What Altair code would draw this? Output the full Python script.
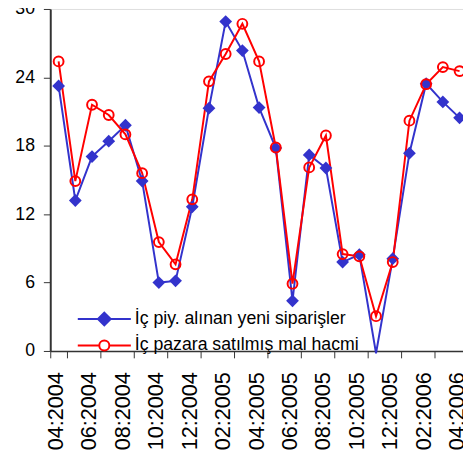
import json
import altair as alt
import pandas as pd

months = ["04:2004", "05:2004", "06:2004", "07:2004", "08:2004", "09:2004",
          "10:2004", "11:2004", "12:2004", "01:2005", "02:2005", "03:2005",
          "04:2005", "05:2005", "06:2005", "07:2005", "08:2005", "09:2005",
          "10:2005", "11:2005", "12:2005", "01:2006", "02:2006", "03:2006",
          "04:2006"]
tick_labels = months[::2]
names = ["İç piy. alınan yeni siparişler", "İç pazara satılmış mal hacmi"]
orders = [23.25, 13.2, 17.05, 18.4, 19.8, 14.9, 6.0, 6.15, 12.65, 21.3, 28.9, 26.35,
          21.35, 17.8, 4.4, 17.2, 16.05, 7.8, 8.45, -0.2, 8.1, 17.35, 23.45, 21.85, 20.45]
sales = [25.4, 14.9, 21.6, 20.7, 19.0, 15.6, 9.55, 7.6, 13.3, 23.65, 26.05, 28.7,
         25.4, 17.85, 5.9, 16.1, 18.9, 8.5, 8.3, 3.05, 7.8, 20.2, 23.4, 24.9, 24.55]
y_ticks = [0, 6, 12, 18, 24, 30]

BLUE = "#3333CC"
RED = "#FF0000"
FONT = "Liberation Sans"
AX = "#333333"

df = pd.DataFrame({
    "month": months * 2,
    "series": [names[0]] * len(months) + [names[1]] * len(months),
    "key": ["a"] * len(months) + ["b"] * len(months),
    "value": orders + sales,
})

path_a = "M-1,0L1,0M0,-0.24L0.24,0L0,0.24L-0.24,0Z"
path_b = ("M-1,0L-0.19,0M0.19,0L1,0M0.19,0A0.19,0.19,0,1,1,-0.19,0"
          "A0.19,0.19,0,1,1,0.19,0Z")
cond = "datum.value === " + json.dumps(names[0], ensure_ascii=False)

x = alt.X("month:O", sort=months,
          scale=alt.Scale(type="band", paddingInner=0, paddingOuter=0),
          axis=alt.Axis(values=tick_labels, tickBand="extent", labelAngle=270,
                        labelFont=FONT, labelFontSize=22, labelColor="black",
                        labelPadding=14, tickSize=7, labelOffset=-3,
                        labelOverlap=False, domainColor=AX, tickColor=AX,
                        domainWidth=1.5, tickWidth=1, grid=False, title=None))
y = alt.Y("value:Q", scale=alt.Scale(domain=[0, 30], nice=False, zero=False),
          axis=alt.Axis(values=y_ticks, labelFont=FONT, labelFontSize=18,
                        labelColor="black", tickSize=7, labelPadding=9,
                        domainColor=AX, tickColor=AX, domainWidth=2, tickWidth=1,
                        grid=False, title=None))

base = alt.Chart(df).encode(x=x, y=y)

legend = alt.Legend(
    title=None, orient="none", legendX=27, legendY=302, padding=0,
    symbolSize=2916, clipHeight=27, labelOffset=3, rowPadding=0,
    labelFont=FONT, labelFontSize=18, labelColor="black", labelLimit=400,
    symbolStrokeWidth=2,
    symbolType=alt.ExprRef(f"{cond} ? '{path_a}' : '{path_b}'"),
    symbolFillColor=alt.ExprRef(f"{cond} ? '{BLUE}' : 'white'"),
)

lines = base.mark_line(strokeWidth=2).encode(
    color=alt.Color("series:N", sort=names,
                    scale=alt.Scale(domain=names, range=[BLUE, RED]),
                    legend=legend),
    order=alt.Order("key:N"),
)
diamonds = base.mark_point(shape="diamond", filled=True, color=BLUE, size=169,
                           opacity=1).transform_filter(
    (alt.datum.key == "a") & (alt.datum.value >= 0))
circles = base.mark_point(shape="circle", filled=False, color=RED, size=100,
                          strokeWidth=2, opacity=1).transform_filter(
    alt.datum.key == "b")

chart = alt.layer(lines, diamonds, circles).properties(
    width=425, height=348,
    autosize=alt.AutoSizeParams(type="none"),
    padding={"left": 43, "top": -3, "right": -5, "bottom": 110},
).configure_view(stroke="#999999", strokeWidth=1.5).configure(background="white")

chart.save("out.html", embed_options={"renderer": "svg", "actions": False})
